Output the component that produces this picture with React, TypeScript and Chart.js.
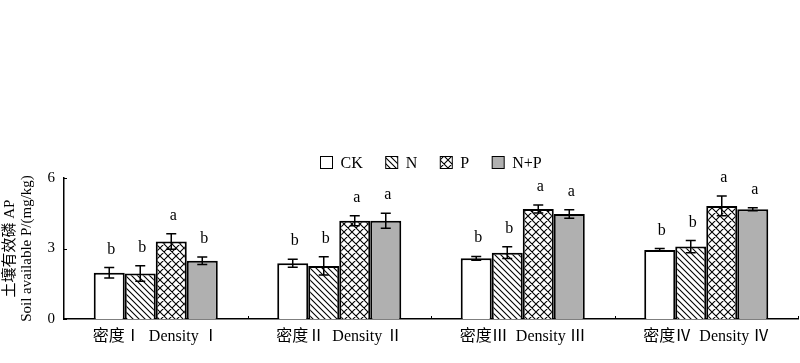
import React, { useEffect, useRef } from "react";
import { Chart, registerables } from "chart.js";
Chart.register(...registerables);

const categories = ["密度Ⅰ  Density Ⅰ", "密度Ⅱ  Density Ⅱ", "密度Ⅲ  Density Ⅲ", "密度Ⅳ  Density Ⅳ"];
const seriesNames = ["CK", "N", "P", "N+P"];
const ckValues = [1.97, 2.37, 2.58, 2.94];
const ckErrors = [0.22, 0.17, 0.08, 0.06];
const ckLetters = ["b", "b", "b", "b"];
const nValues = [1.94, 2.26, 2.82, 3.08];
const nErrors = [0.33, 0.39, 0.25, 0.26];
const nLetters = ["b", "b", "b", "b"];
const pValues = [3.3, 4.18, 4.68, 4.81];
const pErrors = [0.33, 0.21, 0.17, 0.42];
const pLetters = ["a", "a", "a", "a"];
const npValues = [2.48, 4.18, 4.47, 4.67];
const npErrors = [0.16, 0.32, 0.18, 0.06];
const npLetters = ["b", "a", "a", "a"];
const yTicks = [0, 3, 6];
const yTitle = ["土壤有效磷 AP", "Soil available P/(mg/kg)"];

const FONT = "'Liberation Serif', 'Times New Roman', 'Noto Sans CJK SC', serif";

function makePattern(kind: "diag" | "cross") {
  const c = document.createElement("canvas");
  const s = kind === "diag" ? 6 : 8;
  c.width = s;
  c.height = s;
  const g = c.getContext("2d")!;
  g.fillStyle = "#ffffff";
  g.fillRect(0, 0, s, s);
  g.strokeStyle = "#000000";
  g.lineWidth = 1.1;
  g.beginPath();
  g.moveTo(-1, -1);
  g.lineTo(s + 1, s + 1);
  g.moveTo(-1, s - 1);
  g.lineTo(1, s + 1);
  g.moveTo(s - 1, -1);
  g.lineTo(s + 1, 1);
  if (kind === "cross") {
    g.moveTo(s + 1, -1);
    g.lineTo(-1, s + 1);
    g.moveTo(-1, 1);
    g.lineTo(1, -1);
    g.moveTo(s - 1, s + 1);
    g.lineTo(s + 1, s - 1);
  }
  g.stroke();
  return g.createPattern(c, "repeat")!;
}

export default function App() {
  const ref = useRef<HTMLCanvasElement | null>(null);
  useEffect(() => {
    if (!ref.current) return;
    const errors = [ckErrors, nErrors, pErrors, npErrors];
    const letters = [ckLetters, nLetters, pLetters, npLetters];
    const fills: any[] = ["#ffffff", makePattern("diag"), makePattern("cross"), "#b0b0b0"];
    const values = [ckValues, nValues, pValues, npValues];

    const extras = {
      id: "extras",
      afterDatasetsDraw(chart: any) {
        const ctx = chart.ctx;
        const y = chart.scales.y;
        const x = chart.scales.x;
        const area = chart.chartArea;
        ctx.save();
        // error bars and letters
        chart.data.datasets.forEach((ds: any, di: number) => {
          const meta = chart.getDatasetMeta(di);
          meta.data.forEach((bar: any, i: number) => {
            const v = ds.data[i];
            const e = errors[di][i];
            const cx = bar.x;
            const yt = y.getPixelForValue(v + e);
            const yb = y.getPixelForValue(v - e);
            ctx.strokeStyle = "#000";
            ctx.lineWidth = 1.5;
            ctx.beginPath();
            ctx.moveTo(cx, yt);
            ctx.lineTo(cx, yb);
            ctx.moveTo(cx - 5, yt);
            ctx.lineTo(cx + 5, yt);
            ctx.moveTo(cx - 5, yb);
            ctx.lineTo(cx + 5, yb);
            ctx.stroke();
            ctx.fillStyle = "#000";
            ctx.font = "16px " + FONT;
            ctx.textAlign = "center";
            ctx.textBaseline = "alphabetic";
            ctx.fillText(letters[di][i], cx + 2, yt - 14);
          });
        });
        // inward ticks
        ctx.strokeStyle = "#000";
        ctx.lineWidth = 1;
        ctx.beginPath();
        yTicks.forEach((t) => {
          const py = Math.round(y.getPixelForValue(t)) + 0.5;
          ctx.moveTo(area.left - 1, py);
          ctx.lineTo(area.left + 3, py);
        });
        const n = categories.length;
        for (let i = 1; i <= n; i++) {
          const px = Math.round(x.getPixelForValue(i - 0.5)) + 0.5;
          ctx.moveTo(px, area.bottom);
          ctx.lineTo(px, area.bottom - 3);
        }
        ctx.stroke();
        // legend
        ctx.font = "16px " + FONT;
        const box = 12;
        const gap = 8;
        const spacing = 23;
        const widths = seriesNames.map((s) => box + gap + ctx.measureText(s).width);
        const total = widths.reduce((a, b) => a + b, 0) + spacing * (seriesNames.length - 1);
        let lx = Math.round((area.left + area.right) / 2 - total / 2) + 0.5;
        const ly = 156.5;
        seriesNames.forEach((s, i) => {
          ctx.fillStyle = fills[i];
          ctx.fillRect(lx, ly, box, box);
          ctx.strokeStyle = "#000";
          ctx.lineWidth = 1;
          ctx.strokeRect(lx, ly, box, box);
          ctx.fillStyle = "#000";
          ctx.textAlign = "left";
          ctx.textBaseline = "middle";
          ctx.fillText(s, lx + box + gap, ly + box / 2 + 1);
          lx += widths[i] + spacing;
        });
        ctx.restore();
      },
    };

    const chart = new Chart(ref.current, {
      type: "bar",
      data: {
        labels: categories,
        datasets: seriesNames.map((name, i) => ({
          label: name,
          data: values[i],
          backgroundColor: fills[i],
          borderColor: "#000",
          borderWidth: 2,
          categoryPercentage: 0.676,
          barPercentage: 1,
        })),
      },
      options: {
        responsive: false,
        animation: false,
        layout: { padding: { top: 178, right: 2, left: 0, bottom: 0 } },
        plugins: { legend: { display: false }, tooltip: { enabled: false } },
        scales: {
          x: {
            grid: { display: false, drawTicks: false },
            border: { display: true, color: "#000", width: 1.5 },
            ticks: { color: "#000", font: { family: FONT, size: 16 }, padding: 8, maxRotation: 0 },
            afterFit: (s: any) => {
              s.height = 44;
            },
          },
          y: {
            min: 0,
            max: 6,
            afterBuildTicks: (s: any) => {
              s.ticks = yTicks.map((v) => ({ value: v }));
            },
            grid: { display: false, drawTicks: false },
            border: { display: true, color: "#000", width: 1.5 },
            ticks: { color: "#000", font: { family: FONT, size: 15 }, padding: 9 },
            title: {
              display: true,
              text: yTitle,
              color: "#000",
              font: { family: FONT, size: 15, lineHeight: 1.14 },
              padding: { top: 1.5, bottom: 0 },
            },
            afterFit: (s: any) => {
              s.width = 64;
            },
          },
        },
      },
      plugins: [extras],
    });
    return () => chart.destroy();
  }, []);
  return (
    <div style={{ position: "absolute", left: 0, top: 0, width: 800, height: 363, background: "#fff" }}>
      <canvas ref={ref} width={800} height={363} />
    </div>
  );
}
